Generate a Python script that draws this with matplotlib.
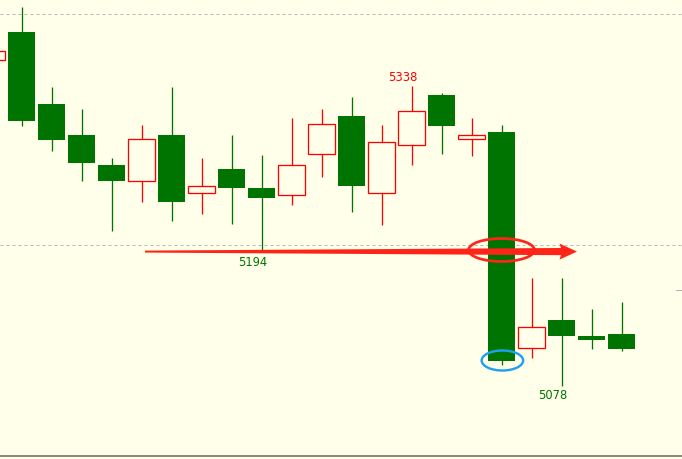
import matplotlib
matplotlib.use("Agg")
import matplotlib.pyplot as plt
from matplotlib.patches import Ellipse, Polygon
import numpy as np

# ---- data (price, one candle per period) ----
opens  = [5360, 5384, 5322, 5295, 5269, 5255, 5295, 5245, 5266, 5249, 5243,
          5279, 5312, 5245, 5287, 5330, 5292, 5298, 5111, 5135, 5121, 5123]
highs  = [5370, 5406, 5337, 5318, 5275, 5304, 5337, 5275, 5295, 5278, 5310,
          5318, 5328, 5304, 5338, 5332, 5310, 5304, 5171, 5171, 5145, 5151]
lows   = [5356, 5303, 5281, 5255, 5212, 5237, 5221, 5227, 5218, 5194, 5235,
          5259, 5229, 5217, 5269, 5279, 5277, 5096, 5102, 5078, 5110, 5108]
closes = [5368, 5307, 5291, 5271, 5255, 5292, 5237, 5251, 5249, 5241, 5269,
          5305, 5251, 5289, 5316, 5303, 5295, 5100, 5129, 5121, 5118, 5110]

grid_levels = [5400, 5200]
support_level = 5194
marker_level = 5161
label_idx = {"5338": 14, "5194": 9, "5078": 19}

BG = "#FFFFEA"
GREEN = "#007400"
RED = "#FF0000"
ARROW_RED = "#FF2418"
BLUE = "#20A0F0"

DPI = 100
W, H = 682, 460
fig = plt.figure(figsize=(W / DPI, H / DPI), dpi=DPI, facecolor=BG)
ax = fig.add_axes([0, 0, 1, 1])
ax.set_facecolor(BG)
ax.set_axis_off()

# scales: 30 px per candle, 1.155 px per point
px_per_idx = 30.0
px_per_pt = 1.155
x0 = (0 - 21.5) / px_per_idx + 1
x1 = (W - 21.5) / px_per_idx + 1
ytop = 5400 + 15 / px_per_pt
ybot = 5400 - (H - 15) / px_per_pt
ax.set_xlim(x0, x1)
ax.set_ylim(ybot, ytop)

lw1 = 72.0 / DPI  # 1 pixel in points

# grid lines
for g in grid_levels:
    ax.axhline(g, color="#B8B8B8", lw=lw1, ls=(0, (3, 3)), zorder=1)
# bottom border
ax.axhline(5400 - (457 - 15) / px_per_pt, color="#7F7F70", lw=1.3, zorder=1)
# small right-edge marker
ax.plot([x1 - 6 / px_per_idx, x1], [marker_level, marker_level],
        color="#B0B0B0", lw=lw1, zorder=1)

idx = np.arange(len(opens))
for i, o, h, l, c in zip(idx, opens, highs, lows, closes):
    up = c >= o
    col = RED if up else GREEN
    ax.vlines(i, l, h, color=col, lw=lw1 * 1.3, zorder=2)
    lo, hi = min(o, c), max(o, c)
    if up:
        ax.bar(i, hi - lo, bottom=lo, width=0.87, facecolor=BG,
               edgecolor=col, linewidth=lw1 * 1.3, zorder=3)
    else:
        ax.bar(i, hi - lo, bottom=lo, width=0.9, facecolor=col,
               edgecolor="none", zorder=3)

# value labels
off_x = -8.5 * 72 / DPI
ax.annotate("5338", (label_idx["5338"], highs[label_idx["5338"]]),
            xytext=(off_x, 9 * 72 / DPI), textcoords="offset points",
            ha="center", va="center", color=RED, fontsize=8.3, zorder=6)
ax.annotate("5194", (label_idx["5194"], lows[label_idx["5194"]]),
            xytext=(off_x, -10 * 72 / DPI), textcoords="offset points",
            ha="center", va="center", color=GREEN, fontsize=8.3, zorder=6)
ax.annotate("5078", (label_idx["5078"], lows[label_idx["5078"]]),
            xytext=(off_x, -9 * 72 / DPI), textcoords="offset points",
            ha="center", va="center", color=GREEN, fontsize=8.3, zorder=6)

# tapering red arrow along the support level
ax_start = (145 - 21.5) / px_per_idx + 1
ax_end = (577 - 21.5) / px_per_idx + 1
head_len = 16 / px_per_idx
yc = support_level + 0.3
hw_l = 1.0 / px_per_pt
hw_r = 3.6 / px_per_pt
head_hw = 8.0 / px_per_pt
xb = ax_end - head_len
poly = [(ax_start, yc - hw_l), (xb, yc - hw_r), (xb - 0.05, yc - head_hw),
        (ax_end, yc), (xb - 0.05, yc + head_hw), (xb, yc + hw_r),
        (ax_start, yc + hw_l)]
ax.add_patch(Polygon(poly, closed=True, facecolor=ARROW_RED,
                     edgecolor="none", zorder=4))

# red ellipse around the break
ax.add_patch(Ellipse((17, 5400 - (251 - 15) / px_per_pt),
                     width=66 / px_per_idx, height=23 / px_per_pt,
                     facecolor="none", edgecolor=ARROW_RED,
                     lw=2.7 * 72 / DPI, zorder=5))
# blue ellipse at the close
ax.add_patch(Ellipse((17.03, closes[17]),
                     width=41.5 / px_per_idx, height=20 / px_per_pt,
                     facecolor="none", edgecolor=BLUE,
                     lw=2.4 * 72 / DPI, zorder=5))

fig.savefig("out.png", dpi=DPI, facecolor=BG)
